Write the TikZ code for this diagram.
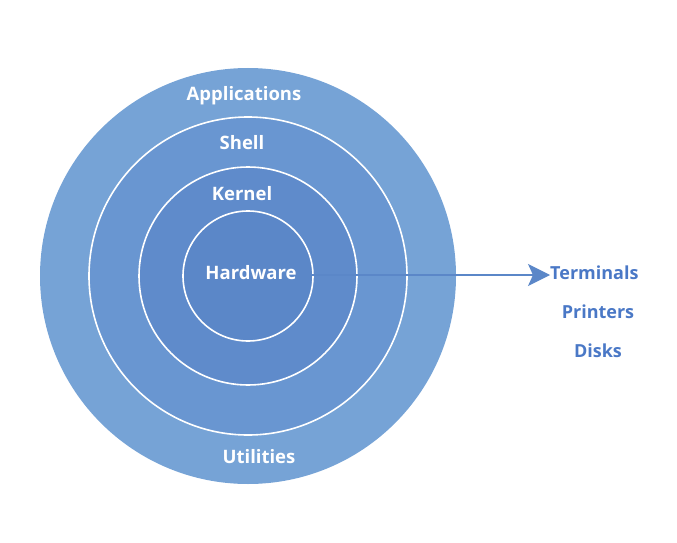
\documentclass[tikz,border=0pt]{standalone}
\usepackage{fontspec}
\setmainfont{Open Sans}
\usetikzlibrary{arrows.meta}
\definecolor{ringA}{HTML}{76A3D6}
\definecolor{ringB}{HTML}{6996D1}
\definecolor{ringC}{HTML}{5F8BCB}
\definecolor{ringD}{HTML}{5B87C8}
\definecolor{arrowc}{HTML}{5B87C8}
\definecolor{labc}{HTML}{4A78C6}
\tikzset{
  ring/.style={circle, draw=white, line width=1.6pt, inner sep=0pt},
  inlab/.style={text=white, font=\bfseries\fontsize{18.5}{22}\selectfont, inner sep=0pt},
  outlab/.style={text=labc, font=\bfseries\fontsize{18}{22}\selectfont, inner sep=0pt},
}
\begin{document}
\begin{tikzpicture}[x=1pt,y=-1pt]
\useasboundingbox (0,0) rectangle (677,543);
\node[ring, draw=none, fill=ringA, minimum size=416pt] (apps) at (248,276) {};
\node[ring, fill=ringB, minimum size=318pt] (shell) at (248,276) {};
\node[ring, fill=ringC, minimum size=218pt] (kernel) at (248,276) {};
\node[ring, fill=ringD, minimum size=130pt] (hw) at (248,276) {};
\node[inlab] (lapps) at (244,96) {Applications};
\node[inlab] (lshell) at (242,143) {Shell};
\node[inlab] (lkernel) at (242,194) {Kernel};
\node[inlab] (lhw) at (251,273) {Hardware};
\node[inlab] (lutil) at (259,457) {Utilities};
\node[outlab, anchor=west] (term) at (550,273) {Terminals};
\node[outlab] (print) at (598,312) {Printers};
\node[outlab] (disks) at (598,351) {Disks};
\draw[arrowc, line width=1.3pt, -{Stealth[length=22pt,width=22pt,inset=5pt]}] (lhw.east |- 0,275) -- (term.west |- 0,275);
\end{tikzpicture}
\end{document}
